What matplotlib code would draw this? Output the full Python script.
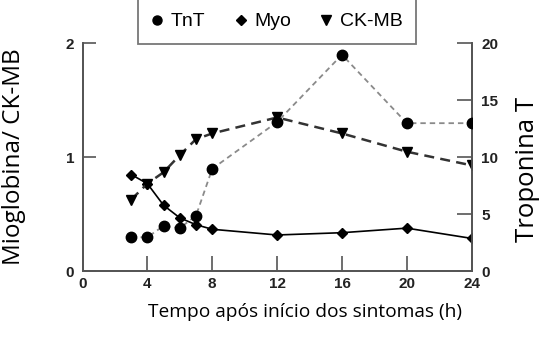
import matplotlib
matplotlib.use("Agg")
import matplotlib.pyplot as plt
from matplotlib.lines import Line2D

# time points (h)
hours = [3, 4, 5, 6, 7, 8, 12, 16, 20, 24]

# troponin T (right axis)
tnt = [3.0, 3.0, 4.0, 3.8, 4.9, 9.0, 13.1, 19.0, 13.0, 13.0]
# myoglobin and CK-MB (left axis)
myo = [0.85, 0.77, 0.58, 0.47, 0.41, 0.37, 0.32, 0.34, 0.38, 0.29]
ckmb = [0.63, 0.77, 0.87, 1.02, 1.16, 1.21, 1.35, 1.21, 1.05, 0.93]

x_ticks = [0, 4, 8, 12, 16, 20, 24]
left_ticks = [0, 1, 2]
right_ticks = [0, 5, 10, 15, 20]

tick_font = {'family': 'Liberation Sans', 'weight': 'bold', 'size': 11}
label_font = 'Open Sans'
spine_color = '#555555'

fig = plt.figure(figsize=(5.4, 3.4), dpi=100)
ax1 = fig.add_axes([0.1528, 0.2015, 0.8735 - 0.1528, 0.8726 - 0.2015])
ax2 = ax1.twinx()

# myoglobin - solid line with diamonds
ax1.plot(hours, myo, color='black', lw=1.2, marker='D', markersize=5.5, zorder=3)
# CK-MB - heavy dashed line with triangles
ax1.plot(hours, ckmb, color='#333333', lw=1.8, dashes=(4, 2.5),
         marker='v', markersize=7.5, markerfacecolor='black', markeredgecolor='black', zorder=3)
# TnT - light dashed line with circles
ax2.plot(hours, tnt, color='#8a8a8a', lw=1.3, dashes=(3, 2.2),
         marker='o', markersize=7.5, markerfacecolor='black', markeredgecolor='black', zorder=3)

ax1.set_xlim(0, 24)
ax1.set_ylim(0, 2)
ax2.set_ylim(0, 20)

ax1.set_xticks(x_ticks)
ax1.set_yticks(left_ticks)
ax2.set_yticks(right_ticks)
ax1.set_xticklabels([str(t) for t in x_ticks], fontdict=tick_font)
ax1.set_yticklabels([str(t) for t in left_ticks], fontdict=tick_font)
ax2.set_yticklabels([str(t) for t in right_ticks], fontdict=tick_font)

for a in (ax1, ax2):
    a.spines['top'].set_visible(False)
    for s in ('left', 'right', 'bottom'):
        a.spines[s].set_color(spine_color)
        a.spines[s].set_linewidth(1.3)
    a.set_facecolor('none')

ax1.tick_params(axis='x', direction='in', length=11, width=1.2, color=spine_color, pad=4, labelcolor='#222222')
ax1.tick_params(axis='y', direction='in', length=9, width=1.2, color=spine_color, pad=6, labelcolor='#222222')
ax2.tick_params(axis='y', direction='in', length=11, width=1.2, color=spine_color, pad=7, labelcolor='#222222')

# legend: markers only, box running off the top
handles = [
    Line2D([], [], linestyle='none', marker='o', markersize=6.5, color='black'),
    Line2D([], [], linestyle='none', marker='D', markersize=5.5, color='black'),
    Line2D([], [], linestyle='none', marker='v', markersize=7, color='black'),
]
leg = fig.legend(handles, ['TnT', 'Myo', 'CK-MB'], ncol=3, loc='lower center',
                 bbox_to_anchor=(277 / 540, (340 - 44) / 340),
                 prop={'family': 'Liberation Sans', 'size': 14},
                 frameon=True, fancybox=False, edgecolor=spine_color,
                 handlelength=0.6, handletextpad=0.4, columnspacing=1.5,
                 borderpad=0.7, borderaxespad=0)
leg.get_frame().set_linewidth(1.3)

# axis titles
fig.text(14 / 540, 1 - 157 / 340, 'Mioglobina/ CK-MB', rotation=90, ha='center', va='center',
         family=label_font, size=17.5)
fig.text(527 / 540, 1 - 169 / 340, 'Troponina T', rotation=90, ha='center', va='center',
         family=label_font, size=18.5)
fig.text(305 / 540, 1 - 312 / 340, 'Tempo após início dos sintomas (h)', ha='center', va='center',
         family=label_font, size=13.8)

fig.savefig('out.png', dpi=100)
